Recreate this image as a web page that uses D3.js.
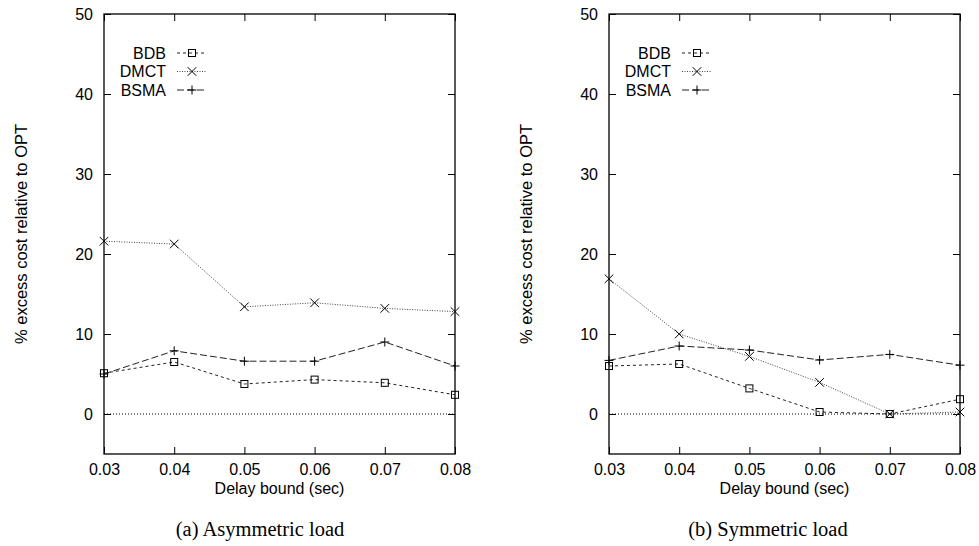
<!DOCTYPE html>
<html>
<head>
<meta charset="utf-8">
<script src="https://cdn.jsdelivr.net/npm/d3@7"></script>
<style>
  html, body { margin: 0; padding: 0; background: #fff; }
  svg text { fill: #000; }
</style>
</head>
<body>
<svg id="chart" width="979" height="546" font-family="Liberation Sans, Arial, Helvetica, sans-serif"></svg>
<script>
// ---- data ----
const delays = [0.03, 0.04, 0.05, 0.06, 0.07, 0.08];
const xTicks = [0.03, 0.04, 0.05, 0.06, 0.07, 0.08];
const yTicks = [0, 10, 20, 30, 40, 50];
const seriesNames = ["BDB", "DMCT", "BSMA"];

// (a) Asymmetric load
const asymBDB  = [5.1, 6.5, 3.75, 4.3, 3.9, 2.4];
const asymDMCT = [21.6, 21.25, 13.4, 13.9, 13.2, 12.8];
const asymBSMA = [5.0, 7.9, 6.6, 6.6, 9.0, 6.0];

// (b) Symmetric load
const symBDB  = [6.0, 6.25, 3.2, 0.25, 0.0, 1.85];
const symDMCT = [16.9, 10.0, 7.2, 3.95, 0.0, 0.25];
const symBSMA = [6.7, 8.5, 8.0, 6.75, 7.45, 6.1];

const panelCaptions = ["(a) Asymmetric load", "(b) Symmetric load"];
const yLabel = "% excess cost relative to OPT";
const xLabel = "Delay bound (sec)";

// ---- layout ----
const svg = d3.select("#chart");
const panels = [
  { left: 104, series: [asymBDB, asymDMCT, asymBSMA], caption: panelCaptions[0], capX: 260 },
  { left: 609, series: [symBDB, symDMCT, symBSMA], caption: panelCaptions[1], capX: 768 }
];
const W = 351, plotTop = 14, plotBottom = 454;
const SANS = "Liberation Sans, Arial, Helvetica, sans-serif";
const SERIF = "Liberation Serif, 'Times New Roman', Times, serif";

const styles = {
  BDB:  { dash: "3,3", stroke: "#222", marker: "square" },
  DMCT: { dash: "1,1.5", stroke: "#444", marker: "cross" },
  BSMA: { dash: "7,3", stroke: "#222", marker: "plus" }
};

function drawMarker(g, type, cx, cy) {
  if (type === "square") {
    g.append("rect").attr("x", cx - 3.5).attr("y", cy - 3.5).attr("width", 7).attr("height", 7)
      .attr("fill", "none").attr("stroke", "#000").attr("stroke-width", 1);
  } else if (type === "cross") {
    const s = 4.3;
    g.append("path").attr("d", `M${cx - s},${cy - s}L${cx + s},${cy + s}M${cx - s},${cy + s}L${cx + s},${cy - s}`)
      .attr("stroke", "#000").attr("stroke-width", 1).attr("fill", "none");
  } else {
    const s = 4.5;
    g.append("path").attr("d", `M${cx - s},${cy}L${cx + s},${cy}M${cx},${cy - s}L${cx},${cy + s}`)
      .attr("stroke", "#000").attr("stroke-width", 1).attr("fill", "none");
  }
}

panels.forEach(p => {
  const x = d3.scaleLinear().domain([0.03, 0.08]).range([p.left, p.left + W]);
  const y = d3.scaleLinear().domain([-5, 50]).range([plotBottom, plotTop]);
  const g = svg.append("g");

  // zero line
  g.append("line")
    .attr("x1", x(0.03)).attr("x2", x(0.08)).attr("y1", y(0)).attr("y2", y(0))
    .attr("stroke", "#000").attr("stroke-width", 1).attr("stroke-dasharray", "1,2");

  // axes
  const fmtX = d3.format(".2f");
  const axL = g.append("g").attr("transform", `translate(${x(0.03)},0)`)
    .call(d3.axisLeft(y).tickValues(yTicks).tickSize(-7).tickPadding(11).tickFormat(d3.format("d")));
  const axR = g.append("g").attr("transform", `translate(${x(0.08)},0)`)
    .call(d3.axisRight(y).tickValues(yTicks).tickSize(-7).tickFormat(""));
  const axB = g.append("g").attr("transform", `translate(0,${plotBottom})`)
    .call(d3.axisBottom(x).tickValues(xTicks).tickSize(-7).tickPadding(10).tickFormat(fmtX));
  const axT = g.append("g").attr("transform", `translate(0,${plotTop})`)
    .call(d3.axisTop(x).tickValues(xTicks).tickSize(-7).tickFormat(""));
  [axL, axR, axB, axT].forEach(a => {
    a.attr("font-family", SANS).attr("font-size", 16);
    a.select(".domain").remove();
    a.selectAll("line").attr("stroke", "#000").attr("stroke-width", 1);
    a.selectAll("text").attr("fill", "#000");
  });

  // frame
  g.append("rect").attr("x", x(0.03)).attr("y", plotTop).attr("width", W).attr("height", plotBottom - plotTop)
    .attr("fill", "none").attr("stroke", "#000").attr("stroke-width", 1.3);

  // series
  seriesNames.forEach((name, i) => {
    const st = styles[name];
    const vals = p.series[i];
    const line = d3.line().x((d, j) => x(delays[j])).y(d => y(d));
    g.append("path").datum(vals).attr("d", line)
      .attr("fill", "none").attr("stroke", st.stroke).attr("stroke-width", 1)
      .attr("stroke-dasharray", st.dash);
    vals.forEach((v, j) => drawMarker(g, st.marker, x(delays[j]), y(v)));

    // legend
    const ly = 53 + i * 18.5;
    g.append("text").attr("x", p.left + 62).attr("y", ly).attr("dy", "0.36em")
      .attr("text-anchor", "end").attr("font-family", SANS).attr("font-size", 16).text(name);
    g.append("line").attr("x1", p.left + 73).attr("x2", p.left + 103).attr("y1", ly).attr("y2", ly)
      .attr("stroke", st.stroke).attr("stroke-width", 1).attr("stroke-dasharray", st.dash);
    drawMarker(g, st.marker, p.left + 88, ly);
  });

  // axis labels
  g.append("text").attr("x", (x(0.03) + x(0.08)) / 2).attr("y", 494)
    .attr("text-anchor", "middle").attr("font-family", SANS).attr("font-size", 16).text(xLabel);
  g.append("text").attr("transform", `translate(${p.left - 83},${(plotTop + plotBottom) / 2}) rotate(-90)`)
    .attr("text-anchor", "middle").attr("dy", "0.36em").attr("font-family", SANS).attr("font-size", 16.5).text(yLabel);

  // caption
  g.append("text").attr("x", p.capX).attr("y", 536).attr("text-anchor", "middle")
    .style("font-family", SERIF).attr("font-size", 20.5)
    .text(p.caption);
});
</script>
</body>
</html>
